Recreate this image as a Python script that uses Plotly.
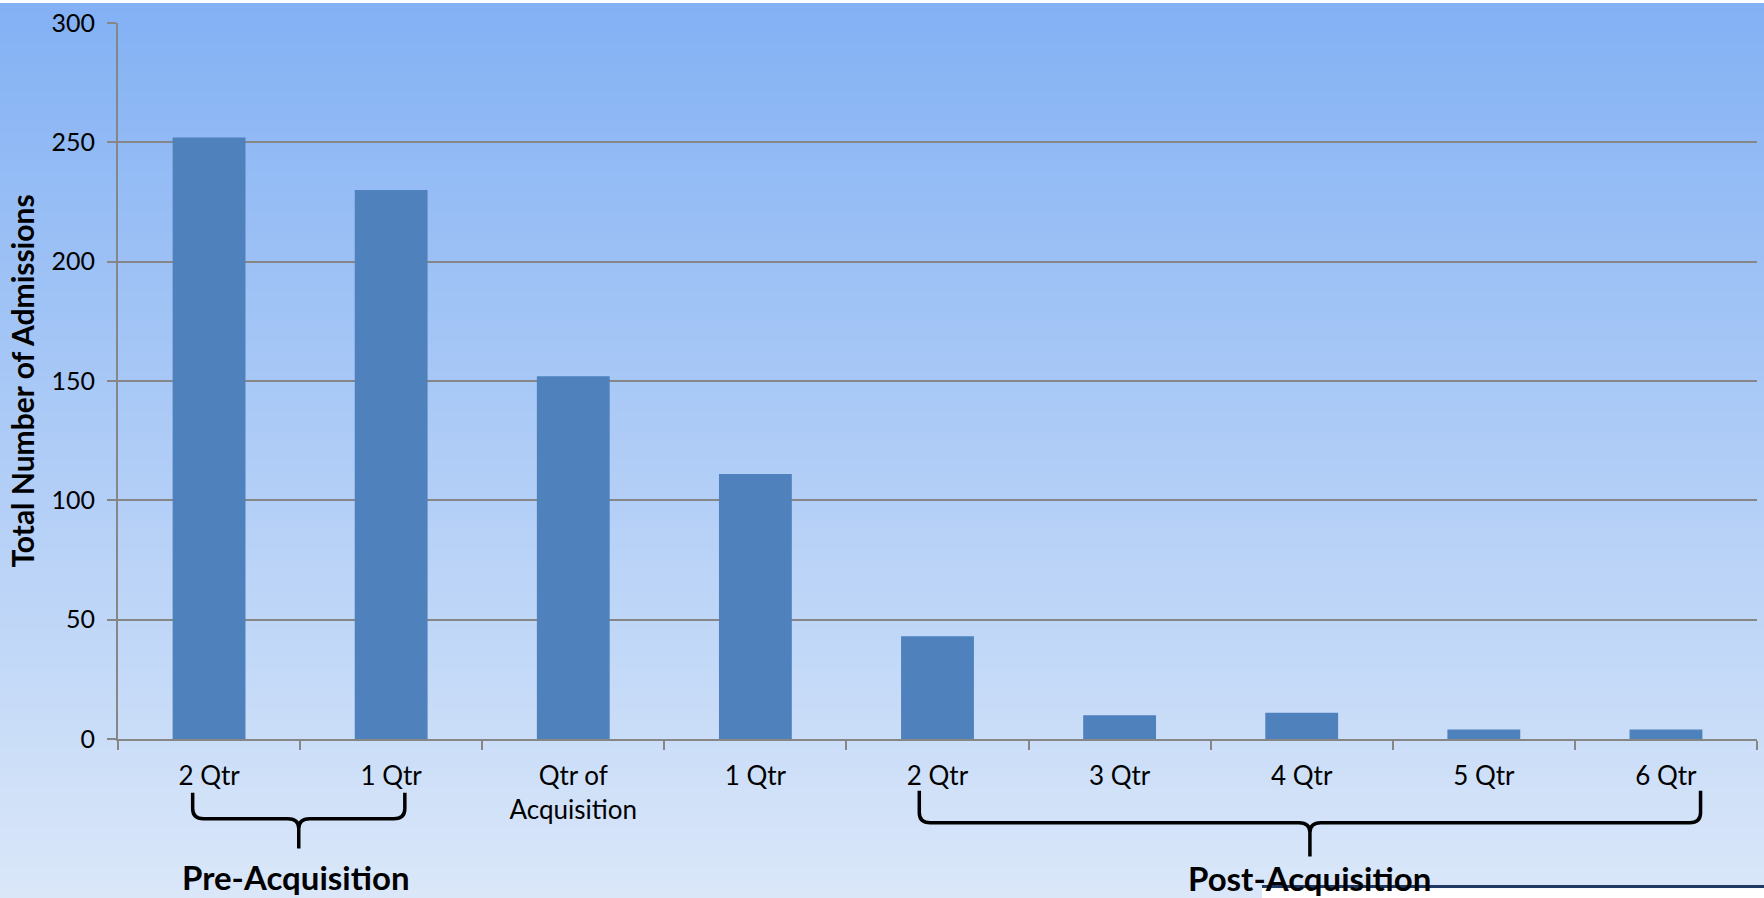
import plotly.graph_objects as go

categories = ["2 Qtr", "1 Qtr", "Qtr of<br>Acquisition", "1 Qtr", "2 Qtr", "3 Qtr", "4 Qtr", "5 Qtr", "6 Qtr"]
admissions = [252, 230, 152, 111, 43, 10, 11, 4, 4]
y_ticks = [0, 50, 100, 150, 200, 250, 300]
group_labels = ["Pre-Acquisition", "Post-Acquisition"]

W, H = 1764, 898
L, R, T, B = 118, 7, 20, 159
PW, PH = W - L - R, H - T - B
FONT = "Lato"

def py(px):  # pixel y -> paper y
    return (H - B - px) / PH

def px_x(px):  # pixel x -> paper x
    return (px - L) / PW

xs = list(range(len(categories)))

fig = go.Figure()
fig.add_trace(go.Bar(x=xs, y=admissions, width=0.4, marker=dict(color="#4F81BD", line=dict(width=0)),
                     hoverinfo="y"))

shapes = []
# gradient background
n = 90
top_c = (131, 177, 244)
bot_c = (218, 231, 249)
for i in range(n):
    y0 = i * H / n
    y1 = (i + 1) * H / n + 1
    f = (i + 0.5) / n
    c = tuple(int(round(top_c[k] + (bot_c[k] - top_c[k]) * f)) for k in range(3))
    shapes.append(dict(type="rect", xref="paper", yref="paper", layer="below",
                       x0=px_x(0), x1=px_x(W), y0=py(y1), y1=py(y0),
                       fillcolor="rgb(%d,%d,%d)" % c, line=dict(width=0)))

def brace(xl, xr, ytop, yh, yp):
    xc = (xl + xr) / 2
    dx = 0.06
    p = (f"M {xl},{py(ytop)} L {xl},{py(yh-10)} Q {xl},{py(yh)} {xl+dx},{py(yh)} "
         f"L {xc-dx},{py(yh)} Q {xc},{py(yh)} {xc},{py(yh+10)} L {xc},{py(yp)} "
         f"M {xr},{py(ytop)} L {xr},{py(yh-10)} Q {xr},{py(yh)} {xr-dx},{py(yh)} "
         f"L {xc+dx},{py(yh)} Q {xc},{py(yh)} {xc},{py(yh+10)}")
    return dict(type="path", xref="x", yref="paper", path=p, line=dict(color="black", width=3.5))

shapes.append(brace(-0.09, 1.075, 793, 819, 849))
shapes.append(brace(3.9, 8.19, 791, 823, 857))

# slide artifact bottom right
shapes.append(dict(type="rect", xref="paper", yref="paper", x0=px_x(1262), x1=px_x(W + 5),
                   y0=py(H + 5), y1=py(889), fillcolor="white", line=dict(width=0), layer="above"))
shapes.append(dict(type="line", xref="paper", yref="paper", x0=px_x(1262), x1=px_x(W + 5),
                   y0=py(887), y1=py(887), line=dict(color="#1F3864", width=3), layer="above"))

annotations = [
    dict(text="<b>%s</b>" % group_labels[0], x=0.475, xref="x", y=py(878), yref="paper",
         showarrow=False, font=dict(family=FONT, size=33, color="black"), xanchor="center", yanchor="middle"),
    dict(text="<b>%s</b>" % group_labels[1], x=6.04, xref="x", y=py(879), yref="paper",
         showarrow=False, font=dict(family=FONT, size=33, color="black"), xanchor="center", yanchor="middle"),
]

fig.update_layout(
    width=W, height=H,
    margin=dict(l=L, r=R, t=T, b=B),
    paper_bgcolor="rgba(0,0,0,0)", plot_bgcolor="rgba(0,0,0,0)",
    showlegend=False,
    shapes=shapes, annotations=annotations,
    bargap=0.6,
    font=dict(family=FONT, color="black"),
    xaxis=dict(range=[-0.5, len(categories) - 0.5], tickvals=xs, ticktext=categories,
               ticks="outside", ticklen=13, tickcolor="rgba(0,0,0,0)",
               tickfont=dict(family=FONT, size=26, color="black"),
               showgrid=False, zeroline=False, showline=True, linecolor="#868686", linewidth=2,
               minor=dict(tickvals=[i - 0.5 for i in range(len(categories) + 1)], ticks="outside",
                          ticklen=9, tickcolor="#868686", tickwidth=1.5, showgrid=False),
               fixedrange=True),
    yaxis=dict(range=[0, 300], tickvals=y_ticks, ticks="outside", ticklen=9, tickcolor="#868686",
               tickwidth=2, tickfont=dict(family=FONT, size=25, color="black"),
               ticklabelstandoff=7,
               showgrid=True, gridcolor="#868686", gridwidth=2, zeroline=False,
               showline=True, linecolor="#868686", linewidth=2,
               title=dict(text="<b>Total Number of Admissions</b>", standoff=8,
                          font=dict(family=FONT, size=30, color="black")),
               fixedrange=True),
)

fig.write_html("out.html")
